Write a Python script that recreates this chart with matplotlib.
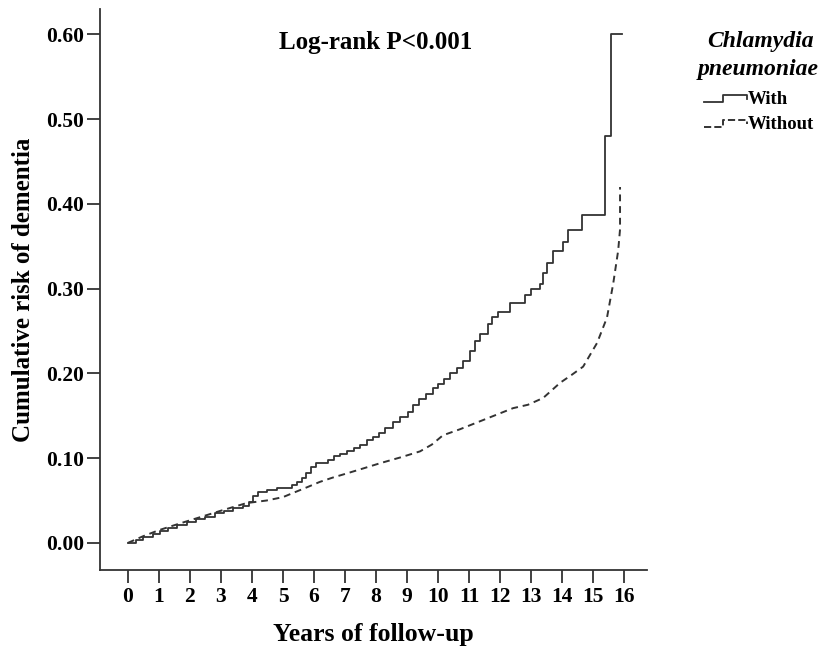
import matplotlib
matplotlib.use("Agg")
import matplotlib.pyplot as plt
from matplotlib.lines import Line2D
from matplotlib.legend_handler import HandlerBase

plt.rcParams["font.family"] = ["Liberation Serif", "DejaVu Serif"]
plt.rcParams["font.weight"] = "bold"

# cumulative risk (years, risk)
with_years = [0.0, 0.25, 0.5, 0.8, 1.05, 1.3, 1.6, 1.9, 2.2, 2.5, 2.8, 3.1,
              3.4, 3.7, 3.9, 4.05, 4.2, 4.5, 4.8, 5.3, 5.45, 5.6, 5.75, 5.9,
              6.05, 6.45, 6.65, 6.85, 7.06, 7.3, 7.5, 7.7, 7.9, 8.1, 8.3,
              8.55, 8.77, 9.03, 9.2, 9.4, 9.6, 9.84, 10.0, 10.2, 10.4, 10.6,
              10.8, 11.03, 11.2, 11.35, 11.6, 11.75, 11.94, 12.32, 12.8,
              13.0, 13.29, 13.4, 13.5, 13.71, 14.03, 14.19, 14.65, 15.4,
              15.57, 15.94]
with_risk = [0.000, 0.004, 0.007, 0.011, 0.014, 0.017, 0.021, 0.025, 0.028,
             0.031, 0.035, 0.038, 0.041, 0.044, 0.048, 0.055, 0.060, 0.063,
             0.065, 0.068, 0.072, 0.077, 0.082, 0.090, 0.094, 0.098, 0.102,
             0.105, 0.109, 0.112, 0.116, 0.121, 0.125, 0.130, 0.136, 0.143,
             0.149, 0.155, 0.163, 0.170, 0.176, 0.183, 0.188, 0.194, 0.200,
             0.206, 0.215, 0.227, 0.238, 0.247, 0.258, 0.266, 0.272, 0.283,
             0.292, 0.300, 0.306, 0.318, 0.330, 0.345, 0.355, 0.369, 0.387,
             0.480, 0.600, 0.600]

without_years = [0.0, 0.5, 1.0, 1.68, 2.3, 3.0, 3.83, 4.47, 5.0, 5.33, 5.8,
                 6.19, 6.6, 7.06, 7.6, 8.13, 8.8, 9.42, 9.8, 10.16, 10.7,
                 11.25, 11.8, 12.42, 12.9, 13.39, 13.94, 14.3, 14.68, 15.13,
                 15.45, 15.65, 15.81, 15.87, 15.87]
without_risk = [0.000, 0.008, 0.015, 0.023, 0.030, 0.038, 0.047, 0.050,
                0.054, 0.059, 0.066, 0.072, 0.077, 0.082, 0.088, 0.094,
                0.101, 0.108, 0.116, 0.127, 0.134, 0.142, 0.150, 0.159,
                0.163, 0.171, 0.189, 0.198, 0.208, 0.236, 0.266, 0.306,
                0.345, 0.370, 0.420]

x_ticks = list(range(0, 17))
y_ticks = [0.0, 0.1, 0.2, 0.3, 0.4, 0.5, 0.6]


class StepHandler(HandlerBase):
    # SPSS style legend sample: a small step
    def create_artists(self, legend, orig_handle, xdescent, ydescent,
                       width, height, fontsize, trans):
        x0, y0 = -xdescent, -ydescent
        xs = [x0, x0 + 0.45 * width, x0 + 0.45 * width, x0 + width, x0 + width]
        ys = [y0 + 0.15 * height, y0 + 0.15 * height, y0 + 0.7 * height,
              y0 + 0.7 * height, y0 + 0.4 * height]
        ln = Line2D(xs, ys, color=orig_handle.get_color(),
                    linestyle=orig_handle.get_linestyle(),
                    linewidth=orig_handle.get_linewidth())
        ln.set_transform(trans)
        return [ln]


fig = plt.figure(figsize=(8.31, 6.47), dpi=100)
ax = fig.add_axes([0.1203, 0.119, 0.6583, 0.867])

l1, = ax.plot(with_years, with_risk, drawstyle="steps-post",
              color="#333333", lw=1.3, label="With")
l2, = ax.plot(without_years, without_risk,
              color="#333333", lw=1.4, linestyle=(0, (3.5, 2.5)),
              label="Without")

ax.set_xlim(-0.9, 16.74)
ax.set_ylim(-0.032, 0.630)
ax.set_xticks(x_ticks)
ax.set_yticks(y_ticks)
ax.set_yticklabels([f"{v:.2f}" for v in y_ticks])
for s in ["top", "right"]:
    ax.spines[s].set_visible(False)
for s in ["left", "bottom"]:
    ax.spines[s].set_color("#333333")
    ax.spines[s].set_linewidth(1.3)
ax.tick_params(axis="both", direction="out", length=9.5, width=1.3,
               color="#333333", labelsize=15.5)
ax.tick_params(axis="y", pad=2)
ax.tick_params(axis="x", pad=3)

ax.set_xlabel("Years of follow-up", fontsize=18.5, fontweight="bold",
              labelpad=11)
ax.set_ylabel("Cumulative risk of dementia", fontsize=18, fontweight="bold",
              labelpad=8)

fig.text(376 / 831, 1 - 42 / 647, "Log-rank P<0.001", fontsize=18,
         fontweight="bold", ha="center", va="center")

fig.text(760 / 831, 1 - 42 / 647, "Chlamydia", fontsize=17,
         fontweight="bold", style="italic", ha="center", va="center")
fig.text(758 / 831, 1 - 69 / 647, "pneumoniae", fontsize=17,
         fontweight="bold", style="italic", ha="center", va="center")

fig.legend(handles=[l1, l2], loc="upper left",
           bbox_to_anchor=(704 / 831, 1 - 91 / 647), frameon=False,
           fontsize=13.5, handler_map={Line2D: StepHandler()},
           handlelength=2.3, handletextpad=0.05, labelspacing=0.4,
           borderpad=0, borderaxespad=0)

fig.savefig("out.png", dpi=100)
